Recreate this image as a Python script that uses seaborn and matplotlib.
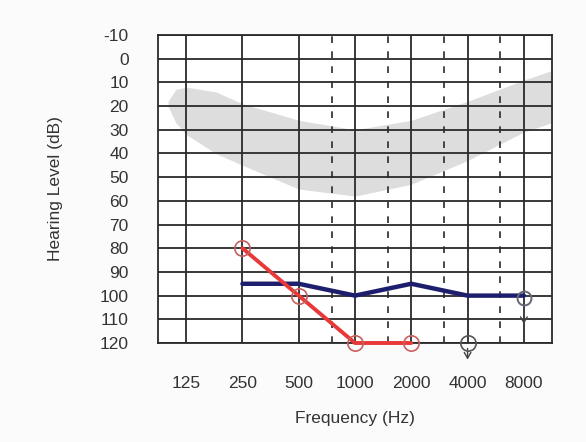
import numpy as np
import pandas as pd
import matplotlib
matplotlib.use("Agg")
import matplotlib.pyplot as plt
import seaborn as sns

# ---- data ----
freq_ticks = [125, 250, 500, 1000, 2000, 4000, 8000]
freq_labels = ["125", "250", "500", "1000", "2000", "4000", "8000"]
half_octaves = [750, 1500, 3000, 6000]
db_ticks = list(range(-10, 121, 10))

red_freq = [250, 500, 1000, 2000]
red_db = [80, 100, 120, 120]
nr_freq = [4000]          # no response
nr_db = [120]

blue_freq = [250, 500, 1000, 2000, 4000, 8000]
blue_db = [95, 95, 100, 95, 100, 100]
blue_nr_freq = [8000]
blue_nr_db = [101]

banana_freq = [100, 110, 125, 180, 250, 500, 1000, 2000, 4000, 8000, 11300]
banana_top = [18, 13, 12, 14, 19, 26, 30, 26, 18, 9, 5]
banana_bot = [20, 27, 32, 40, 45, 55, 58, 53, 43, 31, 27]

sns.set_theme(style="white")
plt.rcParams['font.family'] = ['Liberation Sans', 'DejaVu Sans']

fig = plt.figure(figsize=(5.86, 4.42), dpi=100, facecolor="#fbfbfb")
ax = fig.add_axes([158/586, 1-343/442, (552-158)/586, (343-35)/442])
ax.set_facecolor("white")

ax.set_xscale("log", base=2)
ax.set_xlim(125/np.sqrt(2), 8000*np.sqrt(2))
ax.set_ylim(120, -10)

# speech banana
ax.fill_between(banana_freq, banana_top, banana_bot, color="#dadada", alpha=0.9,
                lw=0, zorder=0.5)

# grid
gc = "#2a2a2a"
for f in freq_ticks:
    ax.axvline(f, color=gc, lw=1.3, zorder=1)
for f in half_octaves:
    ax.axvline(f, color=gc, lw=1.2, ls=(0, (4, 5)), zorder=1)
for d in db_ticks:
    ax.axhline(d, color=gc, lw=1.3, zorder=1)

# lines
red_df = pd.DataFrame({"f": red_freq, "db": red_db})
blue_df = pd.DataFrame({"f": blue_freq, "db": blue_db})
sns.lineplot(data=blue_df, x="f", y="db", ax=ax, color="#1e1e6e", lw=3.2,
             zorder=3, clip_on=False)
sns.lineplot(data=red_df, x="f", y="db", ax=ax, color="#e83838", lw=2.8,
             marker="o", markersize=11, markerfacecolor="none",
             markeredgecolor="#c86060", markeredgewidth=1.2, zorder=4, clip_on=False)

arrow_props = dict(arrowstyle="->,head_length=0.35,head_width=0.2",
                   color="#444444", lw=1.0, shrinkA=0, shrinkB=0)

# no response symbols
ax.plot(nr_freq, nr_db, ls="none", marker="o", markersize=11,
        markerfacecolor="none", markeredgecolor="#555555", markeredgewidth=1.2,
        zorder=4, clip_on=False)
for f, d in zip(nr_freq, nr_db):
    ax.annotate("", xy=(f, d + 7), xytext=(f, d + 2.3),
                arrowprops=arrow_props, annotation_clip=False)
ax.plot(blue_nr_freq, blue_nr_db, ls="none", marker="o", markersize=10,
        markerfacecolor="none", markeredgecolor="#666677", markeredgewidth=1.4,
        zorder=5, clip_on=False)
for f, d in zip(blue_nr_freq, blue_nr_db):
    ax.annotate("", xy=(f, d + 11), xytext=(f, d + 2.3),
                arrowprops=arrow_props, annotation_clip=False)

# axes cosmetics
ax.set_xticks(freq_ticks)
ax.set_xticklabels(freq_labels)
ax.set_xticks([], minor=True)
ax.set_yticks(db_ticks)
ax.set_yticklabels([str(d) for d in db_ticks])
ax.tick_params(axis="x", length=0, pad=24, labelsize=12.5, colors="#333333")
ax.tick_params(axis="y", length=0, pad=21, labelsize=12.5, colors="#333333")
for s in ax.spines.values():
    s.set_color(gc)
    s.set_linewidth(1.3)
ax.set_xlabel("Frequency (Hz)", fontsize=12.5, color="#333333")
ax.set_ylabel("Hearing Level (dB)", fontsize=12.5, color="#333333")
ax.xaxis.set_label_coords(0.5, -0.222)
ax.yaxis.set_label_coords(-0.241, 0.5)

fig.savefig("out.png", dpi=100, facecolor=fig.get_facecolor())
